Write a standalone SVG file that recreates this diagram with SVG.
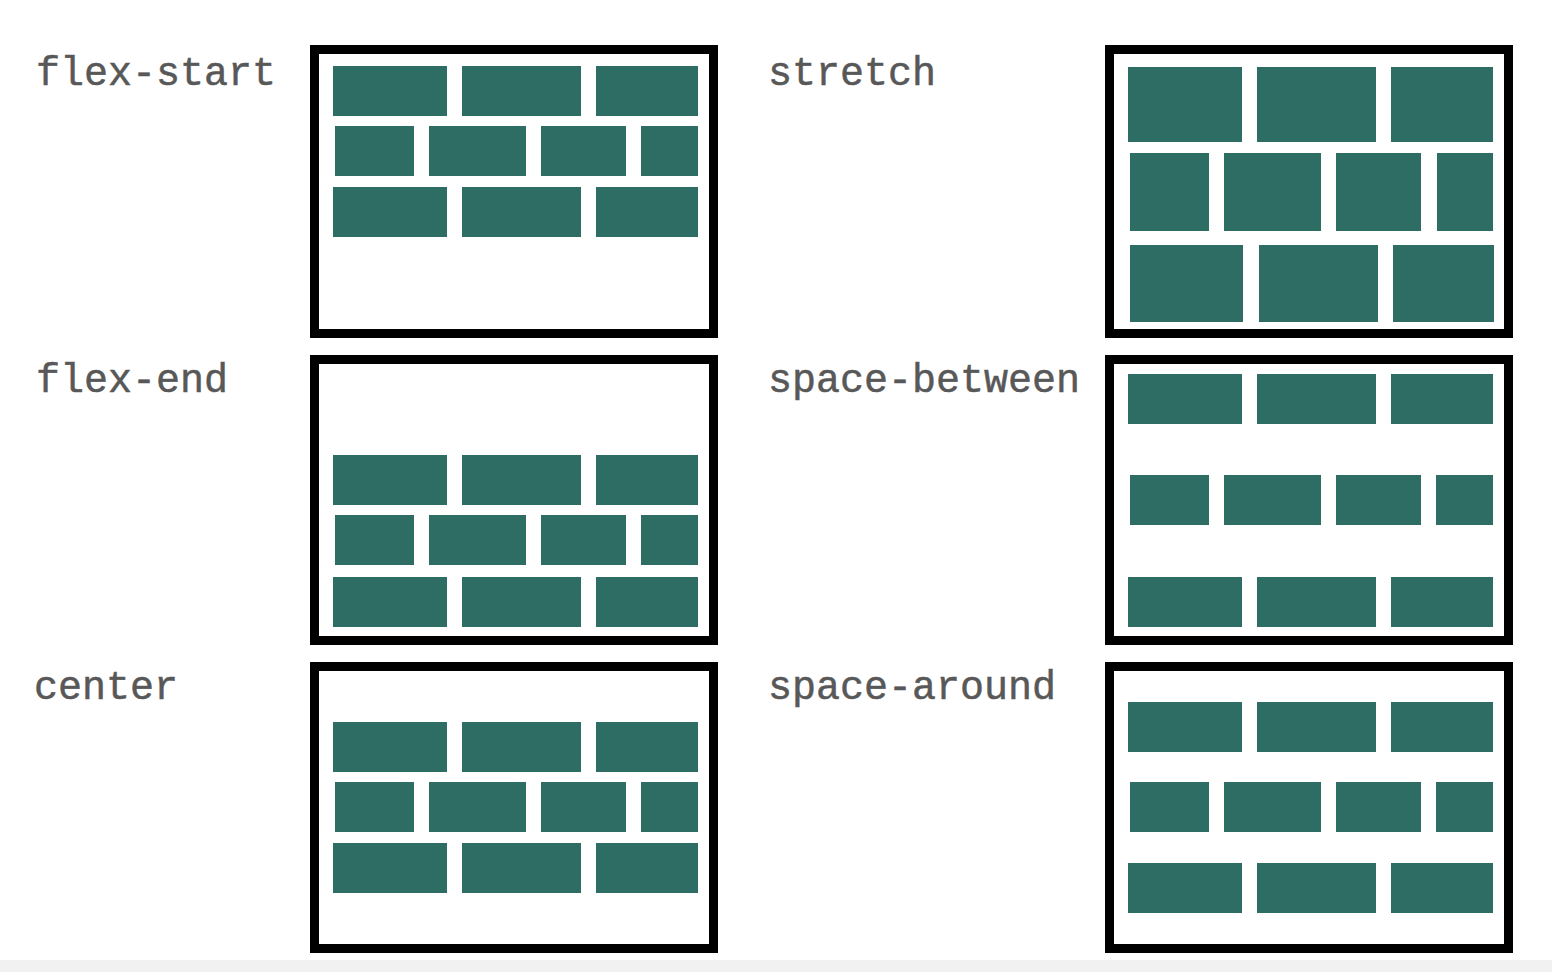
<svg xmlns="http://www.w3.org/2000/svg" width="1552" height="972" viewBox="0 0 1552 972">
<style>
.bg{fill:#ffffff}
.band{fill:#f1f1f1}
.box{fill:#ffffff;stroke:#000000;stroke-width:9}
.b{fill:#2e6d63}
.lbl{font-family:"Courier New","Nimbus Mono PS","Nimbus Mono L","Liberation Mono",monospace;font-size:40px;fill:#585858;stroke:#585858;stroke-width:0.5}
</style>
<defs>
<g id="rowA">
<rect class="b" x="23" y="0" width="114" height="50"/>
<rect class="b" x="152" y="0" width="119" height="50"/>
<rect class="b" x="286" y="0" width="102" height="50"/>
</g>
<g id="rowB">
<rect class="b" x="25" y="0" width="79" height="50"/>
<rect class="b" x="119" y="0" width="97" height="50"/>
<rect class="b" x="231" y="0" width="85" height="50"/>
<rect class="b" x="331" y="0" width="57" height="50"/>
</g>
</defs>
<rect class="bg" x="0" y="0" width="1552" height="972"/>
<rect class="band" x="0" y="960" width="1552" height="12"/>

<g id="flex-start">
<text class="lbl" x="36" y="85">flex-start</text>
<rect class="box" x="314.5" y="49.5" width="399" height="284"/>
<use href="#rowA" x="310" y="66"/>
<use href="#rowB" x="310" y="126"/>
<use href="#rowA" x="310" y="187"/>
</g>

<g id="flex-end">
<text class="lbl" x="36" y="392">flex-end</text>
<rect class="box" x="314.5" y="359.5" width="399" height="281"/>
<use href="#rowA" x="310" y="455"/>
<use href="#rowB" x="310" y="515"/>
<use href="#rowA" x="310" y="577"/>
</g>

<g id="center">
<text class="lbl" x="34" y="699">center</text>
<rect class="box" x="314.5" y="666.5" width="399" height="282"/>
<use href="#rowA" x="310" y="722"/>
<use href="#rowB" x="310" y="782"/>
<use href="#rowA" x="310" y="843"/>
</g>

<g id="stretch">
<text class="lbl" x="768" y="85">stretch</text>
<rect class="box" x="1109.5" y="49.5" width="399" height="284"/>
<rect class="b" x="1128" y="67" width="114" height="75"/>
<rect class="b" x="1257" y="67" width="119" height="75"/>
<rect class="b" x="1391" y="67" width="102" height="75"/>
<rect class="b" x="1130" y="153" width="79" height="78"/>
<rect class="b" x="1224" y="153" width="97" height="78"/>
<rect class="b" x="1336" y="153" width="85" height="78"/>
<rect class="b" x="1437" y="153" width="56" height="78"/>
<rect class="b" x="1130" y="245" width="113" height="77"/>
<rect class="b" x="1259" y="245" width="119" height="77"/>
<rect class="b" x="1393" y="245" width="101" height="77"/>
</g>

<g id="space-between">
<text class="lbl" x="768" y="392">space-between</text>
<rect class="box" x="1109.5" y="359.5" width="399" height="281"/>
<use href="#rowA" x="1105" y="374"/>
<use href="#rowB" x="1105" y="475"/>
<use href="#rowA" x="1105" y="577"/>
</g>

<g id="space-around">
<text class="lbl" x="768" y="699">space-around</text>
<rect class="box" x="1109.5" y="666.5" width="399" height="282"/>
<use href="#rowA" x="1105" y="702"/>
<use href="#rowB" x="1105" y="782"/>
<use href="#rowA" x="1105" y="863"/>
</g>
</svg>
